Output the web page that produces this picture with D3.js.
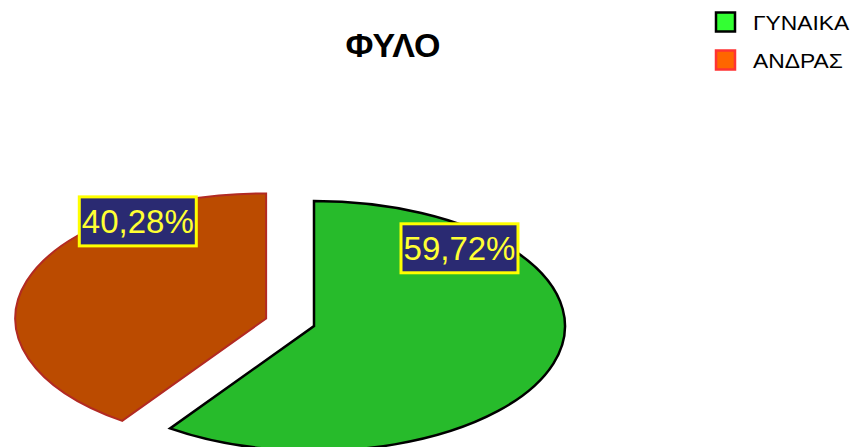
<!DOCTYPE html>
<html>
<head>
<meta charset="utf-8">
<script src="https://cdn.jsdelivr.net/npm/d3@7"></script>
<style>
  body { margin: 0; background: #fff; }
  svg { display: block; font-family: 'Liberation Sans', Arial, sans-serif; }
</style>
</head>
<body>
<div id="chart"></div>
<script>
// Chart data
const categories = ['ΓΥΝΑΙΚΑ', 'ΑΝΔΡΑΣ'];
const values = [59.72, 40.28];
const valueLabels = ['59,72%', '40,28%'];

const width = 853;
const height = 447;

const fills = ['#27bb2b', '#bb4b00'];
const strokes = ['#000000', '#b22a22'];
const legendFills = ['#33ff33', '#ff6600'];
const legendStrokes = ['#000000', '#ff3333'];

// pie geometry (circle squashed into an ellipse)
const rx = 251;
const ry = 125;
const cx = 314;
const cy = 326;
const explode = [0, 0.2]; // fraction of radius each slice is pulled out
const labelAngle = [0.2, 0.77]; // where along the slice the label sits
const labelRadius = [0.85, 0.93];

const svg = d3.select('#chart')
	.append('svg')
	.attr('width', width)
	.attr('height', height);

const pie = d3.pie().sort(null).value((d) => d.value);
const arcs = pie(categories.map((c, i) => ({ name: c, value: values[i] })));

const arc = d3.arc().innerRadius(0).outerRadius(rx);

const pieGroup = svg.append('g')
	.attr('transform', `translate(${cx},${cy}) scale(1,${ry / rx})`);

pieGroup.selectAll('path')
	.data(arcs)
	.enter()
	.append('path')
	.attr('transform', (d, i) => {
		const mid = (d.startAngle + d.endAngle) / 2;
		const off = explode[i] * rx;
		return `translate(${Math.sin(mid) * off},${-Math.cos(mid) * off})`;
	})
	.attr('d', arc)
	.attr('fill', (d, i) => fills[i])
	.attr('stroke', (d, i) => strokes[i])
	.attr('stroke-width', (d, i) => (i === 0 ? 2.5 : 2))
	.attr('stroke-linejoin', 'miter')
	.attr('vector-effect', 'non-scaling-stroke');

// data labels
const labels = svg.append('g');
arcs.forEach((d, i) => {
	const mid = (d.startAngle + d.endAngle) / 2;
	const off = explode[i] * rx;
	const a = d.startAngle + (d.endAngle - d.startAngle) * labelAngle[i];
	const lx = cx + Math.sin(mid) * off + Math.sin(a) * rx * labelRadius[i];
	const ly = cy + (-Math.cos(mid) * off - Math.cos(a) * rx * labelRadius[i]) * ry / rx;
	const g = labels.append('g').attr('transform', `translate(${lx},${ly})`);
	g.append('rect')
		.attr('x', -58.5)
		.attr('y', -24.5)
		.attr('width', 117)
		.attr('height', 49)
		.attr('fill', '#2a2a72')
		.attr('stroke', '#ffff00')
		.attr('stroke-width', 3);
	g.append('text')
		.attr('text-anchor', 'middle')
		.attr('y', 12)
		.attr('font-size', 33)
		.attr('fill', '#ffff33')
		.text(valueLabels[i]);
});

// title
svg.append('text')
	.attr('x', 393)
	.attr('y', 57)
	.attr('text-anchor', 'middle')
	.attr('font-size', 34)
	.attr('font-weight', 'bold')
	.text('ΦΥΛΟ');

// legend
const legend = svg.append('g')
	.selectAll('g')
	.data(categories)
	.enter()
	.append('g')
	.attr('transform', (d, i) => `translate(716,${12.5 + i * 38})`);

legend.append('rect')
	.attr('width', 19)
	.attr('height', 19)
	.attr('fill', (d, i) => legendFills[i])
	.attr('stroke', (d, i) => legendStrokes[i])
	.attr('stroke-width', 2.5);

legend.append('text')
	.attr('transform', 'translate(37,17) scale(1.17,1)')
	.attr('font-size', 19.5)
	.attr('fill', '#000')
	.text((d) => d);
</script>
</body>
</html>
